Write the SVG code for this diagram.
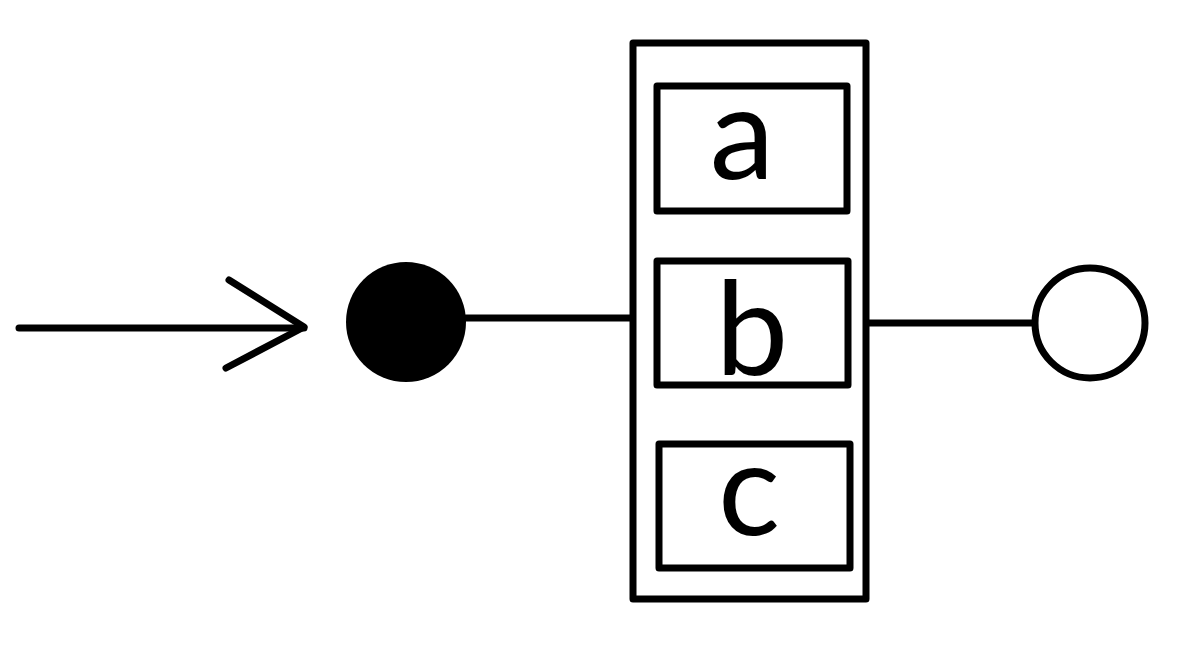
<svg xmlns="http://www.w3.org/2000/svg" width="1190" height="650" viewBox="0 0 1190 650">
  <style>
    .ln { fill: none; stroke: #000; stroke-width: 7; stroke-linecap: round; stroke-linejoin: round; }
    .box { fill: #fff; stroke: #000; stroke-width: 7; stroke-linejoin: round; }
    .lbl { font-family: Lato, "Liberation Sans", sans-serif; font-size: 130px; fill: #000; text-anchor: middle; }
  </style>
  <rect width="1190" height="650" fill="#fff"/>
  <g id="connectors">
    <line class="ln" x1="19" y1="328" x2="304" y2="328"/>
    <polyline class="ln" points="229,280 304,327 226,368"/>
    <line class="ln" x1="466" y1="318" x2="632" y2="318"/>
    <line class="ln" x1="866" y1="323" x2="1034" y2="323"/>
  </g>
  <g id="initial">
    <circle cx="406" cy="322" r="60" fill="#000"/>
  </g>
  <g id="composite">
    <rect class="box" x="633" y="43" width="233" height="556" stroke-width="8"/>
  </g>
  <g id="state-a">
    <rect class="box" x="657" y="86" width="190" height="125"/>
    <text class="lbl" x="742" y="179">a</text>
  </g>
  <g id="state-b">
    <rect class="box" x="657" y="261" width="191" height="124"/>
    <text class="lbl" x="752" y="374">b</text>
  </g>
  <g id="state-c">
    <rect class="box" x="659" y="444" width="191" height="124"/>
    <text class="lbl" x="749" y="535">c</text>
  </g>
  <g id="final">
    <circle cx="1090" cy="323" r="55" fill="#fff" stroke="#000" stroke-width="7"/>
  </g>
</svg>
